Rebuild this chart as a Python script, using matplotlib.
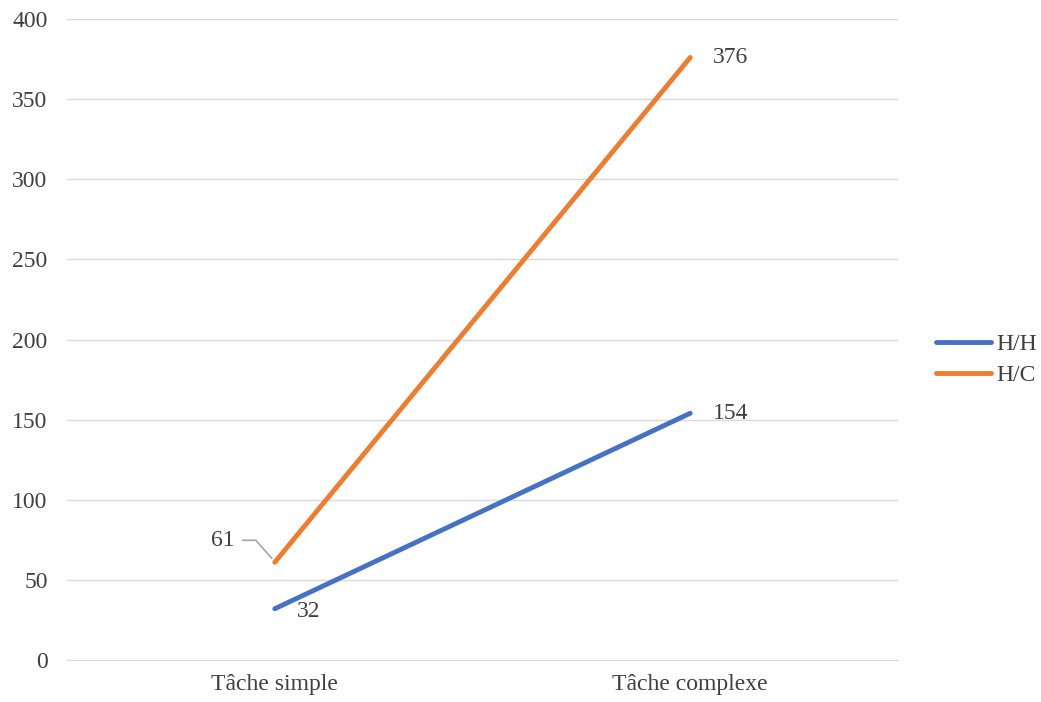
import matplotlib.pyplot as plt
from matplotlib.lines import Line2D

plt.rcParams['font.family'] = ['Liberation Serif', 'DejaVu Serif']

categories = ['Tâche simple', 'Tâche complexe']
series_names = ['H/H', 'H/C']
hh_values = [32, 154]
hc_values = [61, 376]
colors = ['#4472C4', '#ED7D31']
text_color = '#404040'
fs = 17

fig = plt.figure(figsize=(10.41, 7.02), dpi=100)
ax = fig.add_axes([0.0644, 0.0598, 0.7982, 0.9131])

x = list(range(len(categories)))
ax.plot(x, hh_values, color=colors[0], lw=3.5, solid_capstyle='round', zorder=3)
ax.plot(x, hc_values, color=colors[1], lw=3.5, solid_capstyle='round', zorder=3)

ax.set_xlim(-0.5, 1.5)
ax.set_ylim(0, 400)
ax.set_yticks(range(0, 401, 50))
ax.set_xticks(x)
ax.set_xticklabels(categories)
ax.grid(axis='y', color='#D9D9D9', lw=1)
ax.set_axisbelow(True)
for s in ['top', 'right', 'left']:
    ax.spines[s].set_visible(False)
ax.spines['bottom'].set_color('#D9D9D9')
ax.tick_params(axis='both', length=0, labelsize=fs, colors=text_color)
ax.tick_params(axis='y', pad=14)
ax.tick_params(axis='x', pad=10)

# data labels
ax.annotate(str(hh_values[0]), (x[0], hh_values[0]), xytext=(16, -2), textcoords='offset points',
            fontsize=fs, color=text_color, va='center', ha='left')
ax.annotate(str(hh_values[1]), (x[1], hh_values[1]), xytext=(16, 0), textcoords='offset points',
            fontsize=fs, color=text_color, va='center', ha='left')
ax.annotate(str(hc_values[1]), (x[1], hc_values[1]), xytext=(16, 0), textcoords='offset points',
            fontsize=fs, color=text_color, va='center', ha='left')
ax.annotate(str(hc_values[0]), (x[0], hc_values[0]), xytext=(-29, 16), textcoords='offset points',
            fontsize=fs, color=text_color, va='center', ha='right')

# leader line for the 61 label (pixel offsets from the point)
fig.canvas.draw()
bx, by = ax.transData.transform((x[0], hc_values[0]))
lx = [-32, -19, -3]
ly = [22, 22, 4]
fig.add_artist(Line2D([bx + v for v in lx], [by + v for v in ly], transform=None,
                      color='#A6A6A6', lw=1.2))

handles = [Line2D([], [], color=c, lw=3.5, solid_capstyle='round') for c in colors]
fig.legend(handles, series_names, loc='center left', bbox_to_anchor=(0.899, 0.4875),
           frameon=False, fontsize=fs, labelcolor=text_color, handlelength=2.35,
           handletextpad=0.2, labelspacing=0.4, borderpad=0, borderaxespad=0)

fig.savefig('out.png', dpi=100)
